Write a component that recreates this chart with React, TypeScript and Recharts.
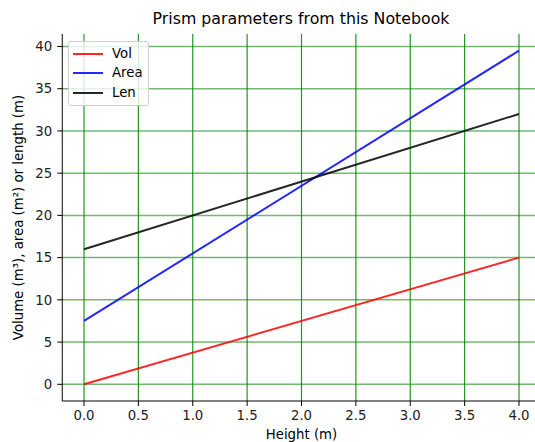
import React from "react";
import {
  LineChart,
  Line,
  XAxis,
  YAxis,
  CartesianGrid,
  Label,
} from "recharts";

const heights = [0, 4];
const volValues = [0, 15];
const areaValues = [7.5, 39.5];
const lenValues = [16, 32];
const xTicks = [0, 0.5, 1, 1.5, 2, 2.5, 3, 3.5, 4];
const yTicks = [0, 5, 10, 15, 20, 25, 30, 35, 40];
const seriesNames = ["Vol", "Area", "Len"];
const seriesColors = ["#ff0000", "#0000ff", "#000000"];

const data = heights.map((h, i) => ({
  h,
  Vol: volValues[i],
  Area: areaValues[i],
  Len: lenValues[i],
}));

const FONT = "'DejaVu Sans', sans-serif";
const FS = 13.3;

const LegendBox = () => (
  <div
    style={{
      position: "absolute",
      left: 68,
      top: 41,
      width: 79,
      height: 63,
      border: "1px solid #d0d0d0",
      borderRadius: 3,
      background: "rgba(255,255,255,0.8)",
      fontFamily: FONT,
      fontSize: FS,
      color: "#000",
    }}
  >
    {seriesNames.map((name, i) => (
      <div
        key={name}
        style={{
          position: "absolute",
          left: 0,
          top: 2.5 + i * 19.8,
          height: 18,
          display: "flex",
          alignItems: "center",
        }}
      >
        <svg width={43} height={18} style={{ display: "block" }}>
          <line
            x1={4}
            x2={34}
            y1={9}
            y2={9}
            stroke={seriesColors[i]}
            strokeWidth={2}
            strokeOpacity={0.85}
          />
        </svg>
        <span style={{ lineHeight: "18px" }}>{name}</span>
      </div>
    ))}
  </div>
);

export default function App() {
  return (
    <div
      style={{
        position: "absolute",
        left: 0,
        top: 0,
        width: 535,
        height: 442,
        overflow: "hidden",
        background: "#fff",
      }}
    >
      <div
        style={{
          position: "absolute",
          left: 0,
          width: 602,
          top: 10,
          textAlign: "center",
          fontFamily: FONT,
          fontSize: 15.8,
          color: "#000",
          lineHeight: "18px",
        }}
      >
        Prism parameters from this Notebook
      </div>
      <LineChart
        width={560}
        height={442}
        data={data}
        margin={{ top: 34, right: 19.25, bottom: 11, left: 0 }}
        style={{ position: "absolute", left: 0, top: 0 }}
      >
        <CartesianGrid
          horizontal={true}
          vertical={false}
          stroke="#008000"
          strokeOpacity={0.55}
          strokeWidth={1.5}
          horizontalValues={yTicks}
        />
        <CartesianGrid
          horizontal={false}
          vertical={true}
          stroke="#008000"
          strokeOpacity={0.85}
          strokeWidth={1.2}
          verticalValues={xTicks}
        />
        <XAxis
          dataKey="h"
          type="number"
          domain={[-0.2, 4.2]}
          ticks={xTicks}
          allowDataOverflow
          tickFormatter={(v: number) => v.toFixed(1)}
          height={30}
          tickSize={5}
          tickMargin={5}
          stroke="#000"
          tick={{ fill: "#222", fontFamily: FONT, fontSize: FS }}
          interval={0}
        >
          <Label
            content={(p: any) => {
              const vb = p.viewBox;
              return (
                <text
                  x={vb.x + vb.width / 2}
                  y={434}
                  textAnchor="middle"
                  dominantBaseline="central"
                  fontFamily={FONT}
                  fontSize={FS}
                  fill="#000"
                >
                  Height (m)
                </text>
              );
            }}
          />
        </XAxis>
        <XAxis
          xAxisId="top"
          orientation="top"
          dataKey="h"
          type="number"
          domain={[-0.2, 4.2]}
          height={0}
          tick={false}
          tickLine={false}
          stroke="#000"
        />
        <YAxis
          type="number"
          domain={[-1.975, 41.475]}
          ticks={yTicks}
          allowDataOverflow
          width={62.25}
          tickSize={5}
          tickMargin={5}
          stroke="#000"
          tick={{ fill: "#222", fontFamily: FONT, fontSize: FS }}
          interval={0}
        >
          <Label
            content={(p: any) => {
              const vb = p.viewBox;
              const cy = vb.y + vb.height / 2;
              return (
                <text
                  x={18}
                  y={cy}
                  transform={`rotate(-90 18 ${cy})`}
                  textAnchor="middle"
                  dominantBaseline="central"
                  fontFamily={FONT}
                  fontSize={FS}
                  fill="#000"
                >
                  Volume (m³), area (m²) or length (m)
                </text>
              );
            }}
          />
        </YAxis>
        {seriesNames.map((name, i) => (
          <Line
            key={name}
            type="linear"
            dataKey={name}
            name={name}
            stroke={seriesColors[i]}
            strokeOpacity={0.85}
            strokeWidth={2}
            dot={false}
            isAnimationActive={false}
          />
        ))}
      </LineChart>
      <LegendBox />
    </div>
  );
}
